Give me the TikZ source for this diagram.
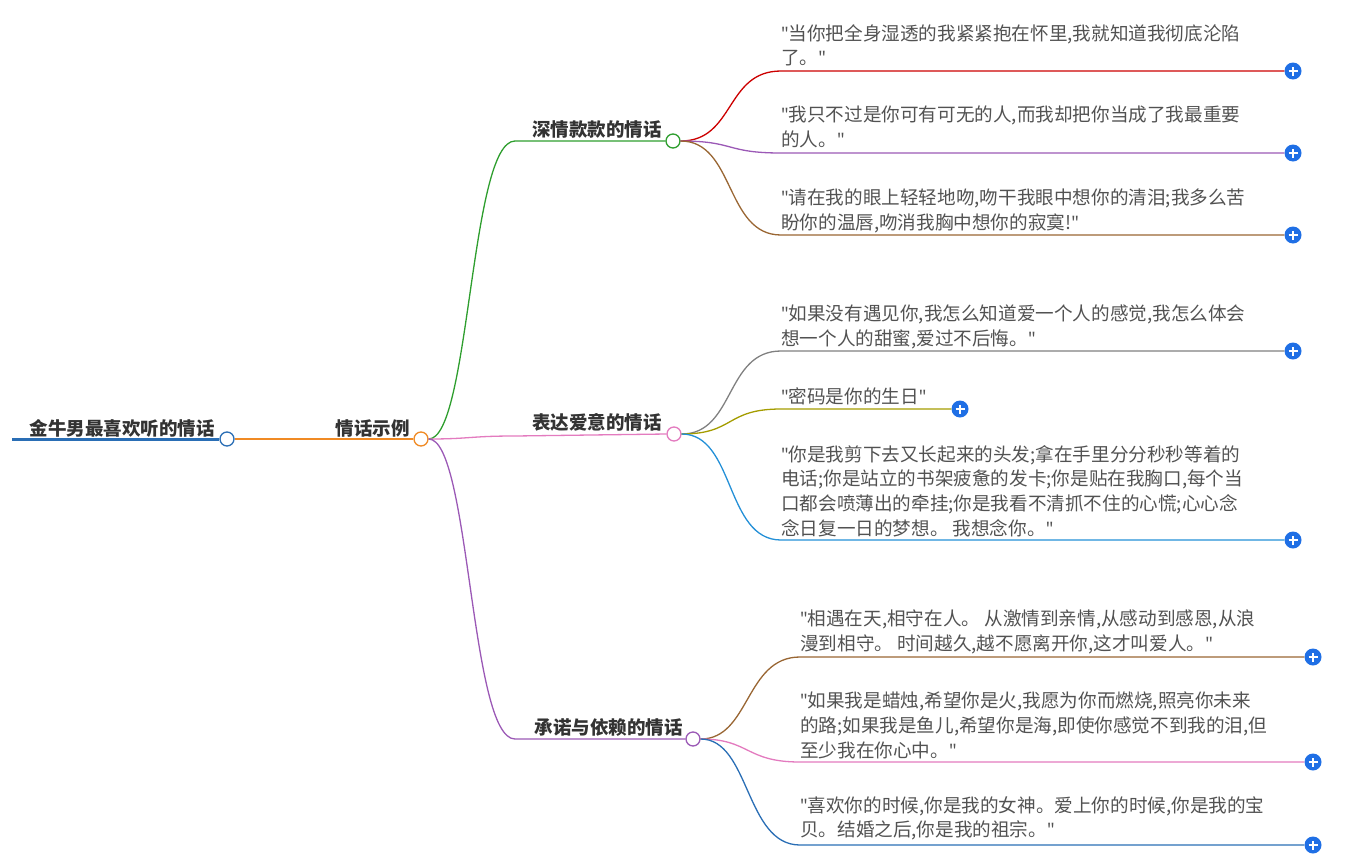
\documentclass[tikz,border=0pt]{standalone}
\usepackage{fontspec}
\setmainfont{Noto Sans CJK SC}[Ligatures=ResetAll]
\newfontfamily\qfont{Noto Sans}[Ligatures=ResetAll]
\newcommand\qq{{\qfont\symbol{34}}}
\begin{document}
\begin{tikzpicture}[x=1pt,y=-1pt,
  leaf/.style={anchor=north west,inner sep=0pt,align=left,text=black!68,font=\fontsize{18.6}{24.6}\selectfont},
  lbl/.style={anchor=south east,inner sep=0pt,font=\fontsize{18.5}{20}\selectfont\bfseries,text=black!80},
  dot/.style={circle,draw=#1,fill=white,line width=1.3pt,minimum size=14pt,inner sep=0pt},
  plus/.style={circle,fill=pblue,minimum size=17pt,inner sep=0pt,
    path picture={\draw[white,line width=1.5pt] ([xshift=-4.5pt]path picture bounding box.center)--([xshift=4.5pt]path picture bounding box.center);
    \draw[white,line width=1.5pt] ([yshift=-4.5pt]path picture bounding box.center)--([yshift=4.5pt]path picture bounding box.center);}},
  ln/.style={line width=1.3pt}]
\useasboundingbox (0,0) rectangle (1350,865);
\definecolor{pblue}{HTML}{1F6FE5}
\definecolor{cg}{HTML}{2E9E2E}\definecolor{cp}{HTML}{E37BBF}\definecolor{cv}{HTML}{9B59B6}
\definecolor{cb}{HTML}{2A6EB5}\definecolor{co}{HTML}{F08A24}
% root
\node[dot=cb] (r) at (227,439) {};
\node[lbl] (rt) at (215,438) {金牛男最喜欢听的情话};
\coordinate (r0) at (12,439);
\draw[cb,line width=3pt] (r0) -- (r.west);
\node[dot=co] (m) at (421,439) {};
\node[lbl] (mt) at (410,437) {情话示例};
\draw[co,ln] (r.east) -- (m.west);
% branches
\node[dot=cg] (a) at (673,141) {};
\node[dot=cp] (b) at (674,434) {};
\node[dot=cv] (c) at (693,739) {};
\node[lbl] at (662,139) {深情款款的情话};
\node[lbl] at (662,432) {表达爱意的情话};
\node[lbl] at (683,737) {承诺与依赖的情话};
\coordinate (a0) at (515,141);\coordinate (b0) at (515,436);\coordinate (c0) at (515,739);
\draw[cg,ln] (m.east) .. controls (470,439) and (470,141) .. (a0) -- (a.west);
\draw[cp,ln] (m.east) .. controls (470,439) and (470,436) .. (b0) -- (b.west);
\draw[cv,ln] (m.east) .. controls (470,439) and (470,739) .. (c0) -- (c.west);
% leaves
\newcommand\leafx[8]{%
  \node[plus] (#8) at (#4,#3) {};
  \coordinate (#8s) at (781,#3);
  \draw[#2,ln] (#1.east) .. controls (735,\pgfkeysvalueof{/tmp/py}) and (725,#3) .. (#8s) -- (#8.west);
  \node[leaf] at (781,#6) {#7};}
\pgfkeys{/tmp/py/.initial=141}
\leafx{a}{red!80!black}{71}{1293}{}{24}{\qq{}当你把全身湿透的我紧紧抱在怀里,我就知道我彻底沦陷\\了。\qq}{l1}
\leafx{a}{cv}{153}{1293}{}{106}{\qq{}我只不过是你可有可无的人,而我却把你当成了我最重要\\的人。\qq}{l2}
\leafx{a}{brown!80!black}{235}{1293}{}{189}{\qq{}请在我的眼上轻轻地吻,吻干我眼中想你的清泪;我多么苦\\盼你的温唇,吻消我胸中想你的寂寞!\qq}{l3}
\pgfkeys{/tmp/py=434}
\leafx{b}{gray}{351}{1293}{}{305}{\qq{}如果没有遇见你,我怎么知道爱一个人的感觉,我怎么体会\\想一个人的甜蜜,爱过不后悔。\qq}{l4}
\leafx{b}{olive!80!yellow}{409}{960}{}{387}{\qq{}密码是你的生日\qq}{l5}
\leafx{b}{cyan!70!blue!90}{540}{1293}{}{445}{\qq{}你是我剪下去又长起来的头发;拿在手里分分秒秒等着的\\电话;你是站立的书架疲惫的发卡;你是贴在我胸口,每个当\\口都会喷薄出的牵挂;你是我看不清抓不住的心慌;心心念\\念日复一日的梦想。 我想念你。\qq}{l6}
\newcommand\leafy[7]{%
  \node[plus] (#7) at (1313,#3) {};
  \coordinate (#7s) at (800,#3);
  \draw[#2,ln] (#1.east) .. controls (750,739) and (745,#3) .. (#7s) -- (#7.west);
  \node[leaf] at (800,#5) {#6};}
\leafy{c}{brown!80!black}{657}{}{610}{\qq{}相遇在天,相守在人。 从激情到亲情,从感动到感恩,从浪\\漫到相守。 时间越久,越不愿离开你,这才叫爱人。\qq}{l7}
\leafy{c}{cp}{762}{}{692}{\qq{}如果我是蜡烛,希望你是火,我愿为你而燃烧,照亮你未来\\的路;如果我是鱼儿,希望你是海,即使你感觉不到我的泪,但\\至少我在你心中。\qq}{l8}
\leafy{c}{cb}{845}{}{796}{\qq{}喜欢你的时候,你是我的女神。爱上你的时候,你是我的宝\\贝。结婚之后,你是我的祖宗。\qq}{l9}
\end{tikzpicture}
\end{document}
